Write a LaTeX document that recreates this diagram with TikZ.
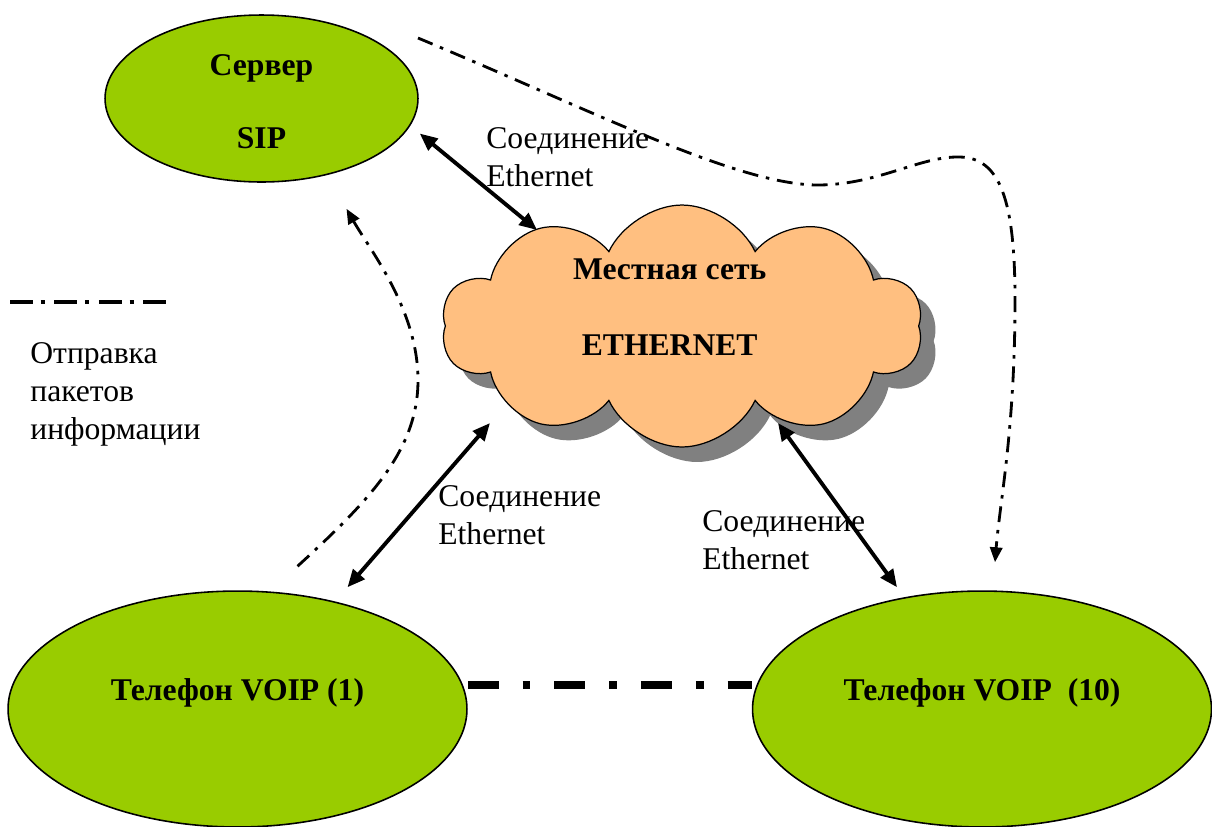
\documentclass[tikz,border=0pt]{standalone}
\usepackage{fontspec}
\setmainfont{Liberation Serif}
\usetikzlibrary{arrows.meta,shapes,shadows,calc,positioning}
\definecolor{leafgreen}{HTML}{99CC00}
\definecolor{peach}{HTML}{FFBF80}
\newcommand{\picfont}{\fontsize{18pt}{21.5pt}\selectfont}
\tikzset{
  link/.style={{Triangle[length=10pt,width=8.5pt]}-{Triangle[length=10pt,width=8.5pt]},line width=2.2pt},
  packet/.style={-{Triangle[length=8.5pt,width=7pt]},line width=1.6pt,
    dash pattern=on 9pt off 4.5pt on 2pt off 4.5pt},
}

\begin{document}
\begin{tikzpicture}[x=0.02cm,y=-0.02cm,
    station/.style={ellipse,draw=black,line width=0.9pt,fill=leafgreen,inner sep=0pt,
      align=center,font={\picfont\bfseries}},
    phone/.style={station,minimum width=9.18cm,minimum height=4.72cm,text height=12pt,text depth=22pt},
    net/.style={cloud,cloud puffs=10,cloud puff arc=130,aspect=2,draw=black,line width=0.7pt,
      fill=peach,minimum width=9.62cm,minimum height=4.84cm,align=center,font={\picfont\bfseries},
      text height=34pt,text depth=0pt,
      drop shadow={shadow xshift=0.3cm,shadow yshift=-0.3cm,opacity=1,fill=black!50}},
    txt/.style={anchor=base west,inner sep=0pt,align=left,font=\picfont},
    chain/.style={line width=4.5pt,dash pattern=on 17.6pt off 13.6pt on 4.5pt off 13.6pt},
    legendline/.style={line width=1.8pt,dash pattern=on 13pt off 4.5pt on 2.3pt off 5.5pt}
  ]
  \useasboundingbox (0,0) rectangle (1212,826);

  % main boxes
  \node[station,minimum width=6.26cm,minimum height=3.34cm,text height=57pt,text depth=0pt]
    (srv) at (261.5,98.5) {Сервер\\[20pt]SIP};
  \node[net] (lan) at (682,326) {Местная сеть\hspace*{14pt}\\[22pt]ETHERNET\hspace*{14pt}};
  \node[phone] (ph1) at (237.5,709) {Телефон VOIP (1)};
  \node[phone] (ph10) at (982,709) {Телефон VOIP\ \ (10)};

  % labels
  \node[txt] (eth1) at (486,186) {Соединение\\Ethernet};
  \node[txt] (eth2) at (438,544) {Соединение\\Ethernet};
  \node[txt] (eth3) at (702,569) {Соединение\\Ethernet};
  \node[txt] (legend) at (30,439) {Отправка\\пакетов\\информации};
  \draw[legendline] (10,302) -- (170,302);

  % ethernet links
  \draw[link] ([shift={(1,35)}]srv.east) -- ([shift={(-145,-96)}]lan.center);
  \draw[link] ([shift={(-192,97)}]lan.center) -- ([shift={(110,-3)}]ph1.north);
  \draw[link] ([shift={(96,97)}]lan.center) -- ([shift={(-85,-3)}]ph10.north);
  \draw[chain] ([shift={(0,-24)}]ph1.east) -- ([shift={(0,-24)}]ph10.west);

  % packet flow
  \coordinate (start) at (418,38);
  \draw[packet] (start) .. controls (600,114) and (740,186) .. (820,185)
    .. controls (880,184) and (920,156) .. (960,157)
    .. controls (1000,158) and (1015,200) .. (1015,300)
    .. controls (1015,430) and (1000,500) .. ([shift={(13,-28)}]ph10.north);
  \draw[packet] ([shift={(60,-24)}]ph1.north) .. controls (370,500) and (418,450) .. (418,380)
    .. controls (418,310) and (370,250) .. ([shift={(85,26)}]srv.south);
\end{tikzpicture}
\end{document}
